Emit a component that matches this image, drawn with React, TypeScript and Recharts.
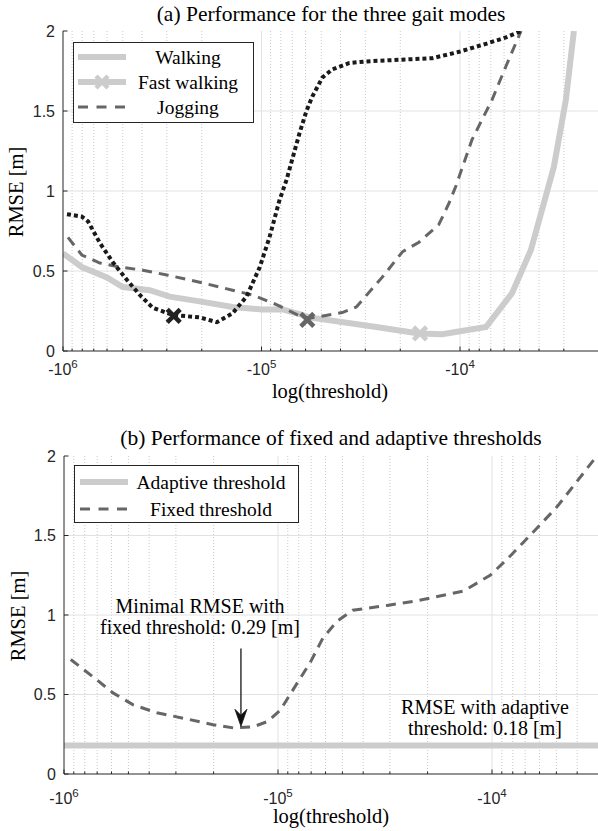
import React from 'react';
import {
  ComposedChart,
  Line,
  Scatter,
  XAxis,
  YAxis,
  CartesianGrid,
  ReferenceLine,
  Legend,
} from 'recharts';

// ---------- DATA (thresholds are negative, RMSE in metres) ----------
// (a) three gait modes
const walkingThreshold = [-1000000, -804000, -601000, -499000, -366000, -290000, -205000, -140000, -100000, -78300, -64400, -57400, -26400, -16100, -12300, -7400, -5480, -4400, -3370, -2930, -2670];
const walkingRmse = [0.61, 0.525, 0.46, 0.4, 0.38, 0.34, 0.31, 0.275, 0.26, 0.26, 0.23, 0.21, 0.15, 0.11, 0.105, 0.15, 0.36, 0.63, 1.15, 1.57, 2.0];

const joggingThreshold = [-944000, -804000, -652000, -518000, -396000, -300000, -205000, -140000, -111000, -84100, -64400, -57400, -39200, -33300, -24700, -19500, -16100, -12800, -11350, -10500, -8710, -6900, -5870, -4930];
const joggingRmse = [0.71, 0.6, 0.55, 0.525, 0.505, 0.475, 0.43, 0.38, 0.35, 0.29, 0.22, 0.205, 0.24, 0.275, 0.46, 0.62, 0.68, 0.79, 0.925, 1.03, 1.32, 1.57, 1.78, 2.0];

const dottedThreshold = [-955000, -804000, -748000, -652000, -561000, -477000, -410000, -353000, -280000, -205000, -168000, -140000, -119000, -102000, -91200, -81300, -74800, -64400, -59400, -55500, -49300, -44000, -36100, -29700, -13800, -10100, -7400, -5870, -4930];
const dottedRmse = [0.855, 0.84, 0.81, 0.675, 0.555, 0.445, 0.35, 0.27, 0.225, 0.21, 0.18, 0.235, 0.34, 0.525, 0.71, 0.94, 1.07, 1.36, 1.5, 1.59, 1.71, 1.76, 1.8, 1.81, 1.83, 1.87, 1.92, 1.96, 2.0];

const markerThreshold = [-277000, -58800, -15900];
const markerRmse = [0.22, 0.195, 0.11];
const markerColors = ['#222222', '#666666', '#cccccc'];

const legendLabelsA = ['Walking', 'Fast walking', 'Jogging'];

// (b) fixed vs adaptive
const fixedThreshold = [-930000, -730000, -590000, -475000, -368000, -266000, -201000, -162000, -131000, -112000, -97700, -81500, -70800, -61700, -53000, -44700, -30900, -22400, -13600, -10200, -8510, -6430, -4970, -4010, -3240];
const fixedRmse = [0.72, 0.61, 0.51, 0.435, 0.385, 0.346, 0.31, 0.29, 0.296, 0.33, 0.4, 0.57, 0.7, 0.855, 0.96, 1.03, 1.06, 1.09, 1.15, 1.25, 1.35, 1.52, 1.68, 1.84, 2.0];

const adaptiveThreshold = [-1000000, -3162];
const adaptiveRmse = [0.18, 0.18];

const minimalArrowThreshold = -149000;
const minimalArrowFrom = 0.79;
const minimalArrowTo = 0.3;

const legendLabelsB = ['Adaptive threshold', 'Fixed threshold'];

const yTicks = [0, 0.5, 1, 1.5, 2];
const majorExponents = [6, 5, 4];

// ---------- helpers ----------
const toX = (t: number) => -Math.log10(-t);
const series = (ts: number[], vs: number[]) => ts.map((t, i) => ({ x: toX(t), y: vs[i] }));

const minorTicks = (lo: number, hi: number) => {
  const out: number[] = [];
  for (let k = 3; k <= 5; k++) {
    for (let m = 2; m <= 9; m++) {
      const v = -Math.log10(m * Math.pow(10, k));
      if (v > lo && v < hi) out.push(v);
    }
  }
  return out;
};
const majorTicks = majorExponents.map((e) => -e);
const isMajor = (v: number) => Math.abs(v - Math.round(v)) < 1e-6;

const AXIS = '#262626';
const SANS = "'Liberation Sans', Arial, Helvetica, sans-serif";
const SERIF = "'Liberation Serif', 'Times New Roman', Times, serif";

const XMark = ({ cx, cy, color, r = 6.5, w = 4.5 }: any) => (
  <path
    d={`M${cx - r},${cy - r}L${cx + r},${cy + r}M${cx - r},${cy + r}L${cx + r},${cy - r}`}
    stroke={color}
    strokeWidth={w}
    fill="none"
  />
);

const bottomTick = (labelOffset: number) => (props: any) => {
  const { x, y, payload } = props;
  const v = payload.value;
  const major = isMajor(v);
  return (
    <g>
      <line x1={x} x2={x} y1={y} y2={y - (major ? 4.5 : 2.5)} stroke={AXIS} strokeWidth={1} />
      {major && (
        <text x={x} y={y + labelOffset} textAnchor="middle" fontFamily={SANS} fontSize={16} fill={AXIS}>
          -10
          <tspan dy={-6.5} fontSize={11.5}>{String(Math.round(-v))}</tspan>
        </text>
      )}
    </g>
  );
};

const topTick = (props: any) => {
  const { x, y, payload } = props;
  const major = isMajor(payload.value);
  return <line x1={x} x2={x} y1={y} y2={y + (major ? 4.5 : 2.5)} stroke={AXIS} strokeWidth={1} />;
};

const leftTick = (props: any) => {
  const { x, y, payload } = props;
  return (
    <g>
      <line x1={x} x2={x + 4.5} y1={y} y2={y} stroke={AXIS} strokeWidth={1} />
      <text x={x - 8} y={y} dy="0.36em" textAnchor="end" fontFamily={SANS} fontSize={16} fill={AXIS}>
        {String(payload.value)}
      </text>
    </g>
  );
};

const rightTick = (props: any) => {
  const { x, y } = props;
  return <line x1={x} x2={x - 4.5} y1={y} y2={y} stroke={AXIS} strokeWidth={1} />;
};

const ArrowShape = (props: any) => {
  const { x1, y1, x2, y2 } = props;
  const top = Math.min(y1, y2);
  const tip = Math.max(y1, y2);
  const x = x1;
  return (
    <g>
      <line x1={x} x2={x} y1={top} y2={tip - 8} stroke={AXIS} strokeWidth={1.4} />
      <path d={`M${x},${tip}L${x - 6},${tip - 17}L${x},${tip - 11}L${x + 6},${tip - 17}Z`} fill="#111" stroke="#111" strokeWidth={0.8} />
    </g>
  );
};

const LegendA = () => (
  <svg width={182} height={82} style={{ display: 'block' }}>
    <rect x={0.5} y={0.5} width={180} height={80} fill="#fff" stroke={AXIS} strokeWidth={1} />
    <line x1={5} x2={53} y1={15} y2={15} stroke="#cccccc" strokeWidth={6} />
    <line x1={5} x2={53} y1={40} y2={40} stroke="#cccccc" strokeWidth={6} />
    <XMark cx={29} cy={40} color="#cccccc" r={6} w={4.5} />
    <line x1={5} x2={53} y1={65} y2={65} stroke="#666666" strokeWidth={3} strokeDasharray="10 8.5" />
    {legendLabelsA.map((l, i) => (
      <text key={l} x={115} y={15 + 25 * i + 7} textAnchor="middle" fontFamily={SERIF} fontSize={19.5} fill="#000">
        {l}
      </text>
    ))}
  </svg>
);

const LegendB = () => (
  <svg width={226} height={59} style={{ display: 'block' }}>
    <rect x={0.5} y={0.5} width={224} height={57} fill="#fff" stroke={AXIS} strokeWidth={1} />
    <line x1={6} x2={54} y1={17} y2={17} stroke="#cccccc" strokeWidth={6} />
    <line x1={6} x2={54} y1={44} y2={44} stroke="#666666" strokeWidth={3} strokeDasharray="10 8.5" />
    {legendLabelsB.map((l, i) => (
      <text key={l} x={137} y={17 + 27 * i + 6.5} textAnchor="middle" fontFamily={SERIF} fontSize={19.5} fill="#000">
        {l}
      </text>
    ))}
  </svg>
);

const walkingData = series(walkingThreshold, walkingRmse);
const joggingData = series(joggingThreshold, joggingRmse);
const dottedData = series(dottedThreshold, dottedRmse);
const fixedData = series(fixedThreshold, fixedRmse);
const adaptiveData = series(adaptiveThreshold, adaptiveRmse);

const Frame = ({ domain, yWidth, height, marginTop, xHeight, labelOffset, legend, legendPos, children }: any) => {
  const minors = minorTicks(domain[0], domain[1]);
  const allTicks = [...majorTicks.filter((v) => v >= domain[0] && v <= domain[1]), ...minors].sort((a, b) => a - b);
  const majorIn = majorTicks.filter((v) => v > domain[0] && v < domain[1]);
  return (
    <ComposedChart width={600} height={height} margin={{ top: marginTop, right: 1, bottom: 0, left: 0 }}>
      <CartesianGrid verticalValues={minors} horizontal={false} stroke="#c9c9c9" strokeDasharray="1 2" />
      <CartesianGrid verticalValues={majorIn} horizontalValues={[0.5, 1, 1.5]} stroke="#e2e2e2" />
      <XAxis
        type="number"
        dataKey="x"
        domain={domain}
        allowDataOverflow
        ticks={allTicks}
        interval={0}
        height={xHeight}
        tickSize={0}
        tickMargin={0}
        tickLine={false}
        axisLine={{ stroke: AXIS }}
        tick={bottomTick(labelOffset)}
      />
      <XAxis
        xAxisId="top"
        orientation="top"
        type="number"
        domain={domain}
        allowDataOverflow
        ticks={allTicks}
        interval={0}
        height={0}
        tickSize={0}
        tickMargin={0}
        tickLine={false}
        axisLine={{ stroke: AXIS }}
        tick={topTick}
      />
      <YAxis
        type="number"
        dataKey="y"
        domain={[0, 2]}
        allowDataOverflow
        ticks={yTicks}
        interval={0}
        width={yWidth}
        tickSize={0}
        tickMargin={0}
        tickLine={false}
        axisLine={{ stroke: AXIS }}
        tick={leftTick}
      />
      <YAxis
        yAxisId="right"
        orientation="right"
        type="number"
        domain={[0, 2]}
        allowDataOverflow
        ticks={yTicks}
        interval={0}
        width={0}
        tickSize={0}
        tickMargin={0}
        tickLine={false}
        axisLine={{ stroke: AXIS }}
        tick={rightTick}
      />
      <Legend
        layout="vertical"
        align="center"
        verticalAlign="middle"
        wrapperStyle={{ left: legendPos[0], top: legendPos[1], width: 'auto', height: 'auto' }}
        content={legend}
      />
      {children}
    </ComposedChart>
  );
};

const textStyle = { fontFamily: SERIF, fill: '#000' };

export default function App() {
  return (
    <div style={{ position: 'absolute', left: 0, top: 0, width: 598, height: 831, overflow: 'hidden', background: '#fff' }}>
      <div style={{ position: 'absolute', left: 0, top: 0 }}>
        <Frame domain={[-6, -3.3]} yWidth={63} height={410} marginTop={31} xHeight={59} labelOffset={23.5} legend={LegendA} legendPos={[73, 42]}>
          <Line data={walkingData} dataKey="y" type="linear" stroke="#cccccc" strokeWidth={6} dot={false} isAnimationActive={false} />
          <Line data={joggingData} dataKey="y" type="linear" stroke="#666666" strokeWidth={3} strokeDasharray="10 7" dot={false} isAnimationActive={false} />
          <Line data={dottedData} dataKey="y" type="linear" stroke="#1a1a1a" strokeWidth={4} strokeDasharray="4 3" dot={false} isAnimationActive={false} />
          {markerThreshold.map((t, i) => (
            <Scatter
              key={i}
              data={[{ x: toX(t), y: markerRmse[i] }]}
              dataKey="y"
              isAnimationActive={false}
              shape={(p: any) => <XMark cx={p.cx} cy={p.cy} color={markerColors[i]} />}
            />
          ))}
        </Frame>
      </div>
      <div style={{ position: 'absolute', left: 0, top: 416 }}>
        <Frame domain={[-6, -3.5]} yWidth={64} height={415} marginTop={40} xHeight={57} labelOffset={29.5} legend={LegendB} legendPos={[74, 49]}>
          <Line data={adaptiveData} dataKey="y" type="linear" stroke="#cccccc" strokeWidth={6} dot={false} isAnimationActive={false} />
          <Line data={fixedData} dataKey="y" type="linear" stroke="#666666" strokeWidth={3} strokeDasharray="10 7" dot={false} isAnimationActive={false} />
          <ReferenceLine
            segment={[
              { x: toX(minimalArrowThreshold), y: minimalArrowFrom },
              { x: toX(minimalArrowThreshold), y: minimalArrowTo },
            ]}
            shape={ArrowShape}
          />
        </Frame>
      </div>
      <svg width={598} height={831} style={{ position: 'absolute', left: 0, top: 0, pointerEvents: 'none' }}>
        <text x={331} y={21} textAnchor="middle" fontSize={21.5} style={textStyle}>(a) Performance for the three gait modes</text>
        <text transform="translate(23,192) rotate(-90)" textAnchor="middle" fontSize={20.5} style={textStyle}>RMSE [m]</text>
        <text x={330} y={398} textAnchor="middle" fontSize={20.5} style={textStyle}>log(threshold)</text>
        <text x={331} y={445} textAnchor="middle" fontSize={21.5} style={textStyle}>(b) Performance of fixed and adaptive thresholds</text>
        <text transform="translate(25,616) rotate(-90)" textAnchor="middle" fontSize={20.5} style={textStyle}>RMSE [m]</text>
        <text x={331} y={823} textAnchor="middle" fontSize={20.5} style={textStyle}>log(threshold)</text>
        <text x={200} y={613} textAnchor="middle" fontSize={20} style={textStyle}>Minimal RMSE with</text>
        <text x={200} y={634} textAnchor="middle" fontSize={20} style={textStyle}>fixed threshold: 0.29 [m]</text>
        <text x={485} y={714} textAnchor="middle" fontSize={20} style={textStyle}>RMSE with adaptive</text>
        <text x={485} y={735} textAnchor="middle" fontSize={20} style={textStyle}>threshold: 0.18 [m]</text>
      </svg>
    </div>
  );
}
